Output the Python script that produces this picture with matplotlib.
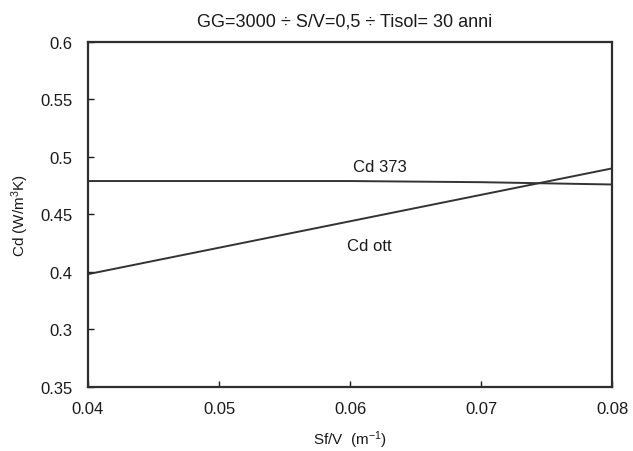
import numpy as np
import matplotlib
matplotlib.use('Agg')
from matplotlib import pyplot as plt

plt.rcParams['font.family'] = ['Liberation Sans', 'DejaVu Sans']
plt.rcParams['mathtext.fontset'] = 'custom'
plt.rcParams['mathtext.rm'] = 'Liberation Sans'
plt.rcParams['mathtext.it'] = 'Liberation Sans:italic'

# data
sfv = [0.04, 0.05, 0.06, 0.07, 0.08]
cd_373 = [0.479, 0.479, 0.479, 0.478, 0.476]
cd_ott = [0.398, 0.421, 0.444, 0.467, 0.490]

x_ticks = [0.04, 0.05, 0.06, 0.07, 0.08]
x_labels = ['0.04', '0.05', '0.06', '0.07', '0.08']
y_ticks = [0.6, 0.55, 0.5, 0.45, 0.4, 0.35, 0.3]
y_labels = ['0.6', '0.55', '0.5', '0.45', '0.4', '0.3', '0.35']  # as printed in the original

fig = plt.figure(figsize=(6.33, 4.52), dpi=100)
ax = fig.add_axes([0.139, 0.142, 0.828, 0.763])

ax.plot(sfv, cd_373, color='#333333', lw=1.4)
ax.plot(sfv, cd_ott, color='#333333', lw=1.4)

ax.text(0.0623, 0.492, 'Cd 373', fontsize=12, ha='center', va='center', color='#1a1a1a')
ax.text(0.0615, 0.4226, 'Cd ott', fontsize=12, ha='center', va='center', color='#1a1a1a')

ax.set_xlim(0.04, 0.08)
ax.set_ylim(0.3, 0.6)
ax.set_xticks(x_ticks)
ax.set_xticklabels(x_labels)
ax.set_yticks(y_ticks)
ax.set_yticklabels(y_labels)
ax.tick_params(direction='in', length=4, width=1, labelsize=12, colors='#1a1a1a')
ax.tick_params(axis='x', pad=10)
ax.tick_params(axis='y', pad=11)

for s in ax.spines.values():
    s.set_linewidth(1.6)
    s.set_color('#2e2e2e')

ax.set_title('GG=3000 ÷ S/V=0,5 ÷ Tisol= 30 anni', fontsize=13, pad=12, x=0.49, color='#1a1a1a')
ax.set_xlabel(r'Sf/V  (m$^{\mathregular{-1}}$)', fontsize=11, labelpad=9, color='#1a1a1a')
ax.set_ylabel(r'Cd (W/m$^{\mathregular{3}}$K)', fontsize=11, labelpad=7, color='#1a1a1a')

fig.savefig('out.png', dpi=100)
